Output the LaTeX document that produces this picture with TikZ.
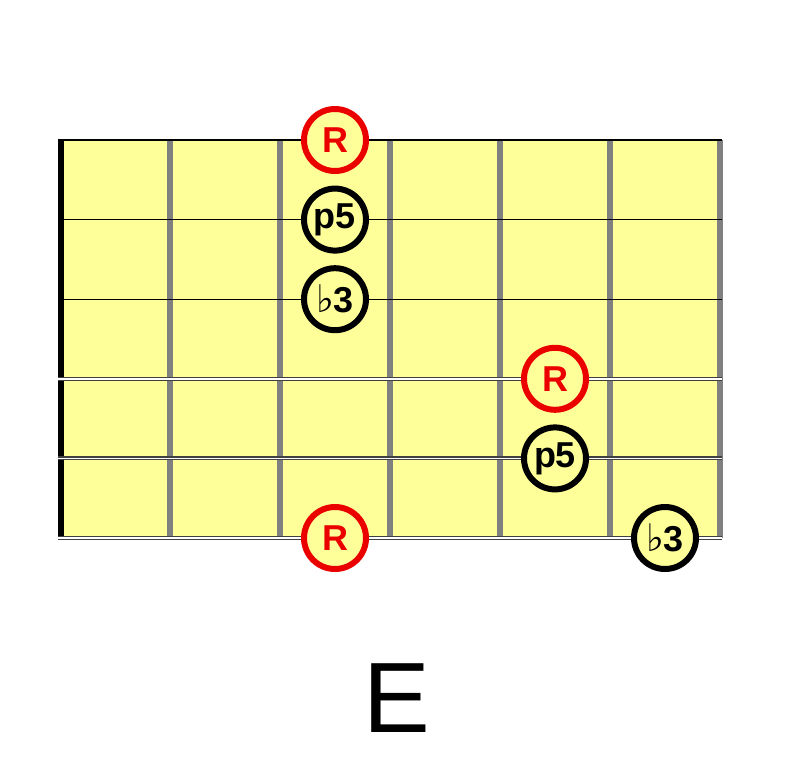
\documentclass[tikz,border=0pt]{standalone}
\usepackage{fontspec}
\setmainfont{Liberation Sans}
\newfontfamily\flatfont{DejaVu Sans}
\definecolor{board}{RGB}{255,255,153}
\definecolor{fretgray}{RGB}{128,128,128}
\definecolor{rootred}{RGB}{235,0,0}
\newcommand{\flt}{{\flatfont\fontsize{38}{38}\selectfont\char"266D}}
\begin{document}
\begin{tikzpicture}[x=1pt,y=-1pt,
  tone/.style={circle,draw=black,fill=board,line width=6pt,minimum size=62pt,inner sep=0pt,
    font=\fontsize{36}{36}\selectfont\bfseries},
  root/.style={tone,draw=rootred,text=rootred}]
\useasboundingbox (0,0) rectangle (792,765);
% the board
\fill[board] (58,140) rectangle (722,538);
% the frets
\foreach \x in {0,...,5}
  \draw[fretgray,line width=5.5pt] (170+110*\x,140) -- (170+110*\x,538);
\draw[black,line width=6pt] (61,140) -- (61,538);
% the strings
\foreach \y in {140,219.6,299.2}
  \draw[black,line width=1pt] (58,\y) -- (722,\y);
\foreach \y in {378.8,458.4,538}
  {\draw[black!75,line width=4pt] (58,\y) -- (722,\y);
   \draw[white,line width=1.5pt] (58,\y) -- (722,\y);}
% the notes
\node[root] (r1) at (335,140) {R};
\node[tone] (p1) at (335,219.6) {p5};
\node[tone] (f1) at (335,299.2) {\flt\kern-1pt3};
\node[root] (r2) at (555,378.8) {R};
\node[tone] (p2) at (555,458.4) {p5};
\node[root] (r3) at (335,538) {R};
\node[tone] (f2) at (665,538) {\flt\kern-1pt3};
% the chord name
\node[font=\fontsize{100}{100}\selectfont] (name) at (397,698) {E};
\end{tikzpicture}
\end{document}
